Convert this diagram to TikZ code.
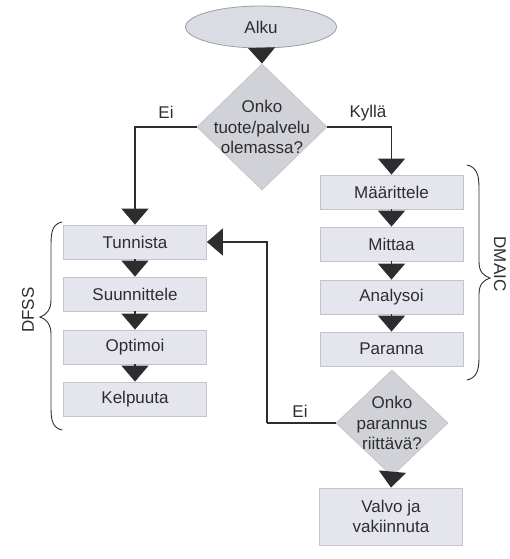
\documentclass[tikz,border=0pt]{standalone}
\usepackage{fontspec}
\setmainfont{Liberation Sans}
\usetikzlibrary{shapes.geometric,arrows.meta}
\definecolor{boxfill}{RGB}{229,229,238}
\definecolor{boxline}{RGB}{196,196,206}
\definecolor{dfill}{RGB}{208,210,216}
\definecolor{efill}{RGB}{218,220,228}
\definecolor{ink}{RGB}{45,45,48}
\tikzset{
  every node/.style={font=\fontsize{17}{20.5}\selectfont, text=ink},
  stepbox/.style={rectangle, draw=boxline, fill=boxfill, line width=0.8pt,
    minimum width=143pt, minimum height=34pt, inner sep=0pt, align=center},
  startnode/.style={ellipse, draw=boxline!80!black, fill=efill, line width=0.8pt,
    minimum width=151pt, minimum height=42pt, inner sep=0pt},
  decision/.style={diamond, draw=boxline, fill=dfill, line width=0.8pt, inner sep=0pt},
  flow/.style={draw=ink, line width=1.4pt, -{Triangle[width=27pt,length=16pt]}},
  plain/.style={draw=ink, line width=1.4pt},
  bracket/.style={draw=ink, line width=0.9pt, line cap=round},
  tag/.style={inner sep=0pt}
}
\begin{document}
\begin{tikzpicture}[x=1pt,y=-1pt]
\useasboundingbox (0,0) rectangle (509,559);

% start and first decision
\node[startnode] (start) at (261,27) {Alku};
\node[decision, minimum width=130pt, minimum height=126pt,
  label={[align=center, text=ink]center:Onko\\tuote/palvelu\\olemassa?}] (q1) at (262,127) {};

% DFSS column
\node[stepbox] (tun) at (135,242) {Tunnista};
\node[stepbox] (suu) at (135,294) {Suunnittele};
\node[stepbox] (opt) at (135,347) {Optimoi};
\node[stepbox] (kel) at (135,399) {Kelpuuta};

% DMAIC column
\node[stepbox] (maa) at (391.5,192) {Määrittele};
\node[stepbox] (mit) at (391.5,244) {Mittaa};
\node[stepbox] (ana) at (391.5,297) {Analysoi};
\node[stepbox] (par) at (391.5,349) {Paranna};

% second decision and final step
\node[decision, minimum width=112pt, minimum height=106pt,
  label={[align=center, text=ink]center:Onko\\parannus\\riittävä?}] (q2) at (392,423) {};
\node[stepbox, minimum height=57pt] (val) at (391,516.5) {Valvo ja\\vakiinnuta};

% connectors
\draw[flow] (start) -- (q1.north);
\draw[flow] (q1.west) -| (tun.north);
\draw[flow] (q1.east) -| (maa.north);
\draw[flow] (tun) -- (suu);
\draw[flow] (suu) -- (opt);
\draw[flow] (opt) -- (kel);
\draw[flow] (maa) -- (mit);
\draw[flow] (mit) -- (ana);
\draw[flow] (ana) -- (par);
\draw[flow] (q2.south) -- (val.north);
\coordinate (back) at (267,423);
\draw[plain] (q2.west) -- (back);
\draw[flow] (back) |- (tun.east);

% branch labels
\node[tag] (ei1) at (166,112) {Ei};
\node[tag] (kyl) at (368,113) {Kyllä};
\node[tag] (ei2) at (300,411) {Ei};

% group braces
\draw[bracket] (62,222) .. controls (53,224) and (51,231) .. (51,244)
  -- (51,300) .. controls (51,310) and (46,315) .. (40,317)
  .. controls (46,319) and (51,324) .. (51,334)
  -- (51,408) .. controls (51,421) and (53,428) .. (62,430);
\node[tag, rotate=90] (dfss) at (28,310) {DFSS};
\draw[bracket] (467,165) .. controls (476,167) and (479,174) .. (479,187)
  -- (479,262) .. controls (479,272) and (484,276) .. (490,278)
  .. controls (484,280) and (479,284) .. (479,294)
  -- (479,358) .. controls (479,371) and (476,378) .. (467,380);
\node[tag, rotate=-90] (dmaic) at (500,264) {DMAIC};
\end{tikzpicture}
\end{document}
